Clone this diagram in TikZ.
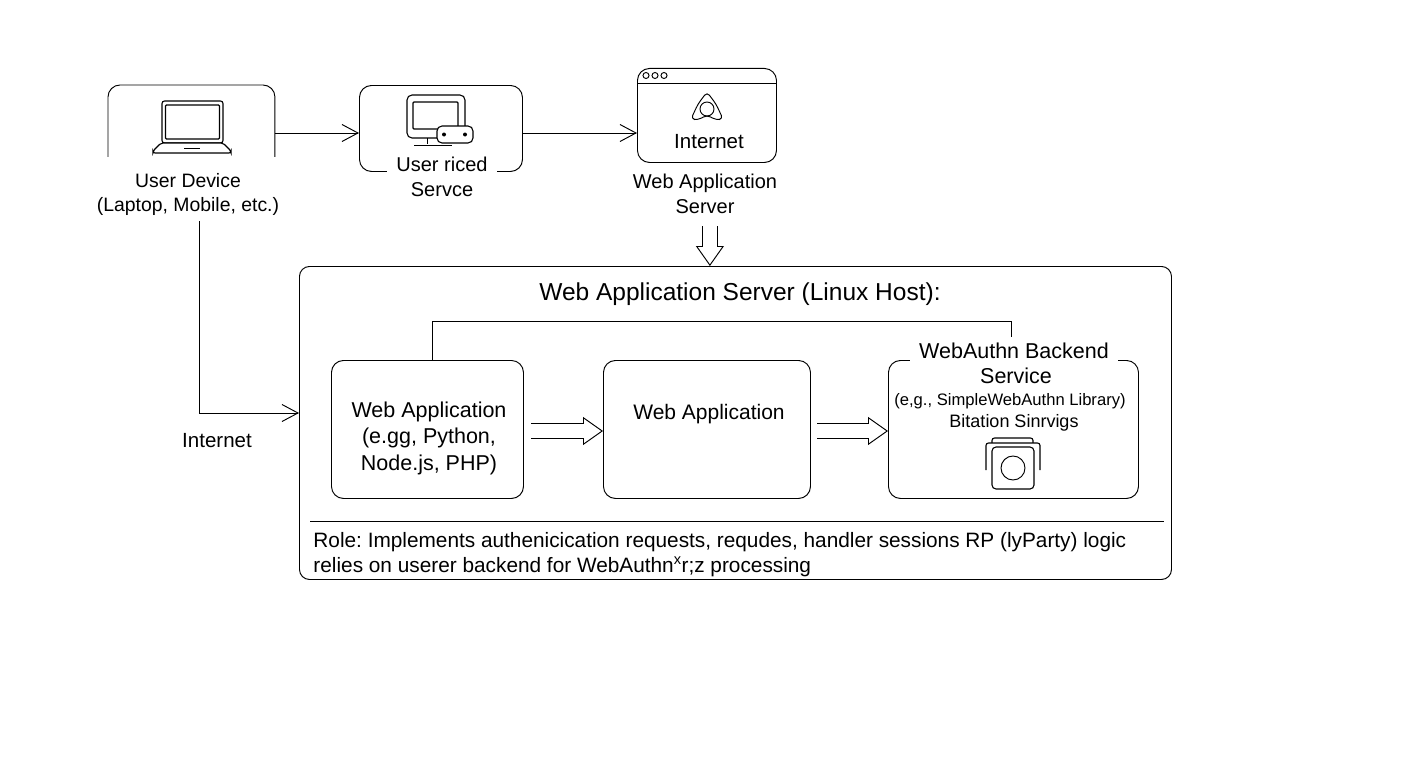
\documentclass[tikz,border=0pt]{standalone}
\usepackage{fontspec}
\setmainfont{Liberation Sans}
\usetikzlibrary{arrows.meta,positioning}

\newcommand{\sizeof}[1]{\fontsize{#1}{#1}\selectfont}

\begin{document}
\frenchspacing
\begin{tikzpicture}[x=1pt,y=-1pt,line width=0.95pt,>={Straight Barb[length=16pt,width=17pt,line width=0.95pt]}]
        % Define block styles
        \tikzstyle{block} = [rectangle, draw, rounded corners=12pt, inner sep=0pt, anchor=north west]
        \tikzstyle{label} = [align=center, inner sep=0pt, font=\sizeof{20}]
        \tikzstyle{icon} = [line width=1.1pt, rounded corners=2.5pt, fill=white]
        \tikzstyle{line} = [draw, ->]
        \tikzstyle{hollow} = [draw, -{Triangle[open, length=20pt, width=28pt, line width=0.95pt, fill=white]}]
        \tikzstyle{shaft} = [draw, double, double distance=14pt, shorten >=19.3pt]

        \useasboundingbox (0,0) rectangle (1408,768);

        % Top row
        \node [rectangle, minimum width=166pt, minimum height=71pt, inner sep=0pt, anchor=north west] (device) at (108,85) {};
        \draw [rounded corners=12pt] (device.south west) -- (device.north west) -- (device.north east) -- (device.south east);
        \node [label, font=\sizeof{19.4}] (device_label) at (188,194.5) {User Device\\[5.5pt](Laptop, Mobile, etc.)};

        \node [block, minimum width=163pt, minimum height=86pt] (service) at (359,85) {};
        \node [label, fill=white, inner xsep=9pt] (service_label) at (442,176.5) {User riced\\[5pt]Servce};

        \node [block, minimum width=139pt, minimum height=94pt] (browser) at (637,68) {};
        \draw (browser.west |- 0,83) -- (browser.east |- 0,83);
        \foreach \x in {646,655,664} {
            \draw (\x,75.5) circle (3pt);
        }
        \node [label, font=\sizeof{20.5}] (browser_label) at (709,142) {Internet};
        \node [label] (server_label) at (705,193.5) {Web Application\\[5pt]Server};

        % Laptop icon
        \draw [icon] (162,101) rectangle (223,143);
        \draw [icon, rounded corners=1pt] (165.5,105) rectangle (219.5,139);
        \draw [icon, rounded corners=2pt] (161,143) -- (223,143) -- (231,151) -- (231,153) -- (153,153) -- (153,151) -- cycle;
        \draw (184,148.5) -- (200,148.5);

        % Monitor icon
        \draw [icon, rounded corners=5pt] (407,95) rectangle (465,138);
        \draw [icon, rounded corners=1pt] (413,102) rectangle (458,129);
        \draw (427,138) -- (427,144) (414,145) -- (452,145);
        \draw [icon, rounded corners=5pt] (437,126) rectangle (473,143);
        \fill (444,134.5) circle (2pt) (465,134.5) circle (2pt);

        % Browser icon
        \draw [rounded corners=4pt, line join=round] (707,92) -- (716,104) -- (723,119) -- (716,120) -- (707,115) -- (698,120) -- (691,119) -- (698,104) -- cycle;
        \draw (707,109) circle (7pt);

        % Main box
        \node [block, rounded corners=10pt, minimum width=872pt, minimum height=313pt] (host) at (299,266) {};
        \node [label, font=\sizeof{24.5}] (host_title) at (740,294.5) {Web Application Server (Linux Host):};

        \node [block, minimum width=192pt, minimum height=138pt] (app) at (331,360) {};
        \node [label, font=\sizeof{21.5}] (app_label) at (429,438) {Web Application\\[5pt](e.gg, Python,\\[5pt]Node.js, PHP)};

        \node [block, minimum width=207pt, minimum height=138pt] (middle) at (603,360) {};
        \node [label, font=\sizeof{21}] (middle_label) at (709,414) {Web Application};

        \node [block, minimum width=250pt, minimum height=138pt] (backend) at (888,360) {};
        \node [label, font=\sizeof{21.5}, fill=white, inner xsep=9pt, minimum height=23pt] (backend_title) at (1014,351) {WebAuthn Backend};
        \node [label, font=\sizeof{21.5}] (backend_service) at (1016,376) {Service};
        \node [label, font=\sizeof{16.6}] (backend_lib) at (1010,401) {(e,g.,\ SimpleWebAuthn Library)};
        \node [label, font=\sizeof{18}] (backend_note) at (1014,423) {Bitation Sinrvigs};

        % Stack icon
        \draw [icon] (992,443) -- (992,438) -- (1033,438) -- (1033,443);
        \draw [icon] (986,470) -- (986,443) -- (1040,443) -- (1040,470);
        \draw [icon, rounded corners=4pt] (992,447) rectangle (1034,489);
        \draw (1013,468) circle (12pt);

        % Role text
        \coordinate (rule_left) at (310,521);
        \coordinate (rule_right) at (1164,521);
        \draw (rule_left) -- (rule_right);
        \node [label, font=\sizeof{20.8}, anchor=base west] (role_one) at (313,547) {Role: Implements authenicication requests, requdes, handler sessions RP (lyParty) logic};
        \node [label, font=\sizeof{20.8}, anchor=base west] (role_two) at (313,572) {relies on userer backend for WebAuthn\textsuperscript{x}r;z processing};

        \node [label, font=\sizeof{20.5}] (internet_label) at (217,441) {Internet};

        % Arrows
        \path [line] (device.east |- 0,133) -- (service.west |- 0,133);
        \path [line] (service.east |- 0,133) -- (browser.west |- 0,133);

        \coordinate (net_start) at (199,221);
        \coordinate (net_end) at (host.west |- 0,413);
        \path [line] (net_start) |- (net_end);

        \coordinate (uplink_start) at (app.north -| 432,0);
        \coordinate (uplink_end) at (1011,337);
        \draw (uplink_start) -- (432,321) -- (1011,321) -- (uplink_end);

        \coordinate (down_start) at (709.9,226);
        \path [hollow] (down_start) -- (host.north -| 709.9,0);
        \path [shaft] (down_start) -- (host.north -| 709.9,0);
        \coordinate (app_out) at (531,431);
        \path [hollow] (app_out) -- (middle.west |- 0,431);
        \path [shaft] (app_out) -- (middle.west |- 0,431);
        \coordinate (middle_out) at (817,431);
        \path [hollow] (middle_out) -- (backend.west |- 0,431);
        \path [shaft] (middle_out) -- (backend.west |- 0,431);

    \end{tikzpicture}
\end{document}
